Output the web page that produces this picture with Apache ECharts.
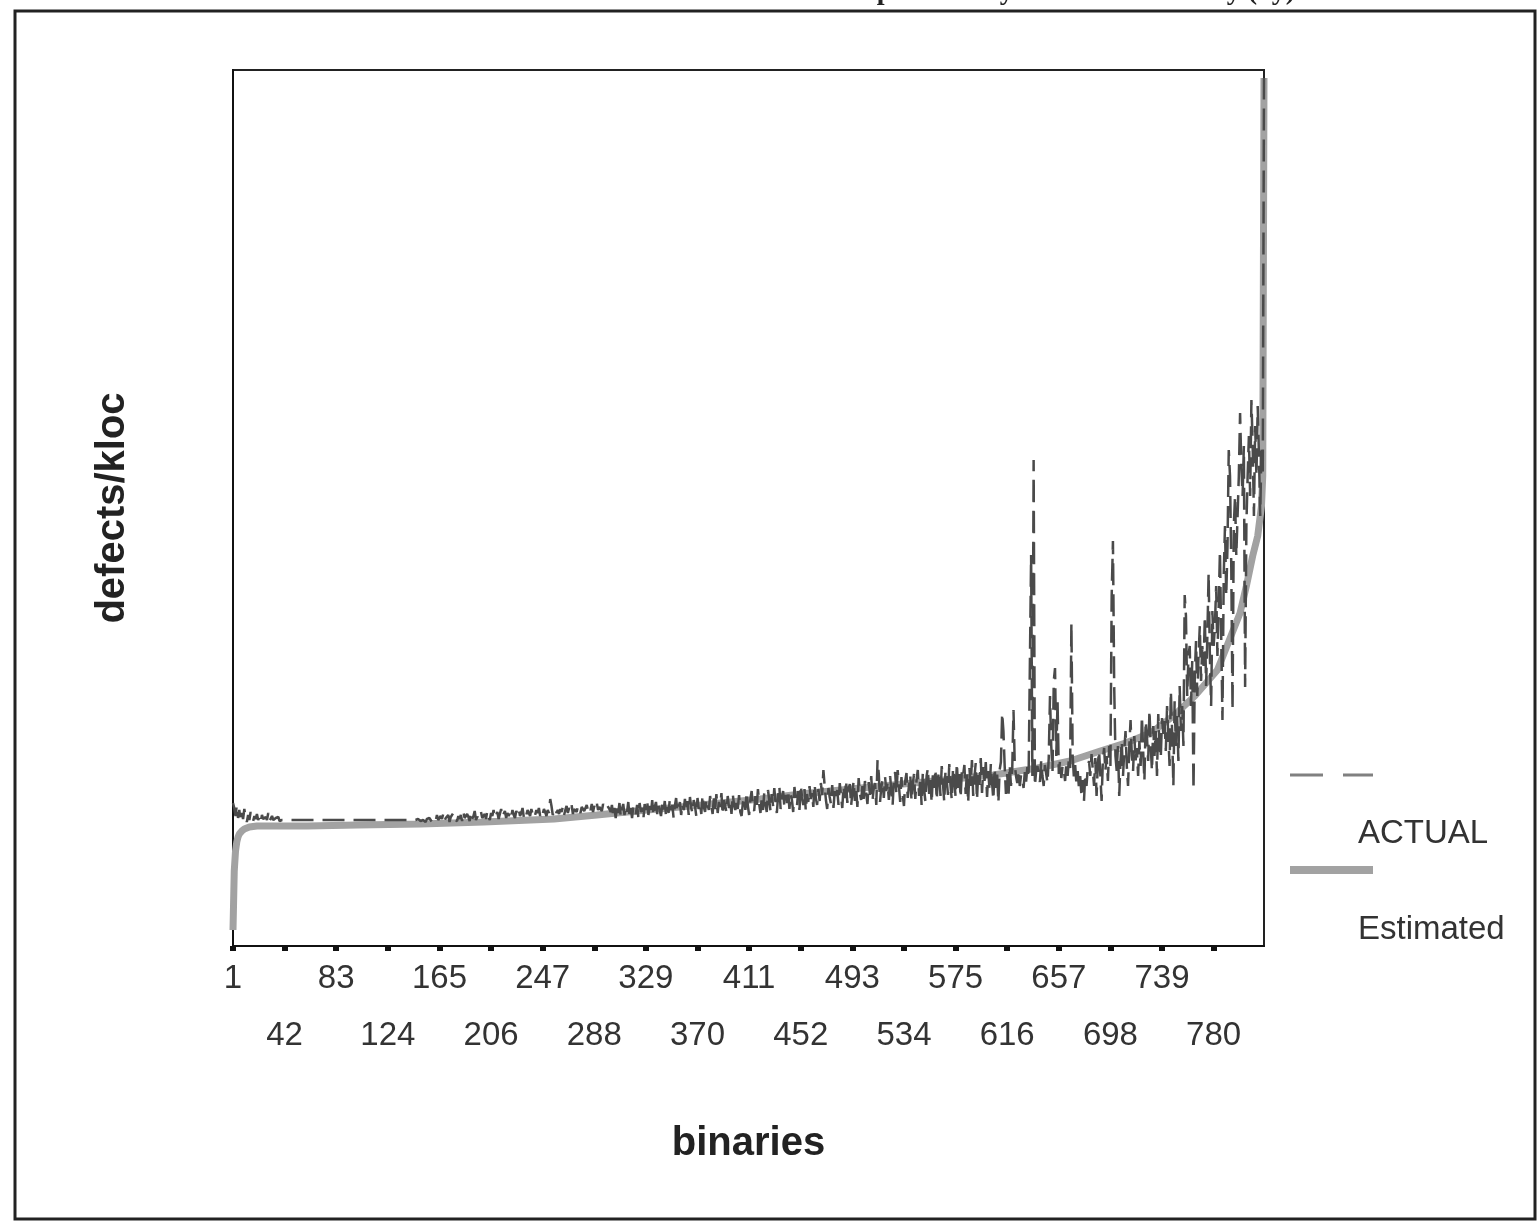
<!DOCTYPE html>
<html>
<head>
<meta charset="utf-8">
<script src="https://cdn.jsdelivr.net/npm/echarts@6/dist/echarts.min.js"></script>
<style>
html,body{margin:0;padding:0;background:#fff;}
#chart{width:1538px;height:1222px;}
</style>
</head>
<body>
<div id="chart"></div>
<script>
// x-axis tick labels (binaries), one label every 41 binaries
const tickLabels = [1,42,83,124,165,206,247,288,329,370,411,452,493,534,575,616,657,698,739,780];
const binaryCount = 820;

// Estimated defects/kloc (read at selected binaries; y in chart units)
const estX = [1,2,3,4,5,6,8,10,14,20,60,100,150,200,256,290,330,373,420,452,500,550,605,640,666,690,710,730,748,765,783,801,806,811,815,818,819,820];
const estY = [16,75,95,104,109,112,115,117,119,120,120,121,122,124,127,131,136,141,147,152,158,164,171,178,185,195,203,213,230,250,276,333,360,390,410,440,470,868];

// ACTUAL defects/kloc for binaries 1..820
const actual = [
143,138,130,141,128,136,125,133,127,137,129,124,131,126,134,128,125,130,127,132,
126,129,124,131,127,125,129,126,133,125,127,130,126,124,128,126,129,125,127,126,
126,126,126,126,126,126,126,126,126,126,126,126,126,126,126,126,126,126,126,126,
126,126,126,126,126,126,126,126,126,126,126,126,126,126,126,126,126,126,126,126,
126,126,126,126,126,126,126,126,126,126,126,126,126,126,126,126,126,126,126,126,
126,126,126,126,126,126,126,126,126,126,126,126,126,126,126,126,126,126,126,126,
126,126,126,126,126,126,126,126,126,126,126,126,126,126,126,126,126,126,126,126,
126,126,126,126,126,126,126,127,126,125,127,126,128,124,127,125,128,126,124,127,
129,125,131,126,124,130,127,132,125,128,126,131,124,129,127,133,126,128,125,130,
127,131,125,134,128,126,132,129,125,133,127,130,135,126,129,131,127,134,128,130,
132,127,135,129,126,133,130,136,128,131,134,127,132,137,129,131,135,128,133,130,
134,129,136,131,128,135,132,137,130,133,138,129,134,131,136,133,130,137,132,135,
131,136,133,138,130,135,132,137,134,130,136,133,147,140,131,135,138,133,136,132,
137,134,139,131,136,140,133,138,135,141,132,137,139,134,140,136,133,139,137,135,
138,141,135,139,136,142,134,140,137,143,136,139,141,135,142,138,136,141,139,137,
134,141,130,138,128,140,133,143,129,137,142,131,139,134,144,130,138,128,140,136,
132,141,129,143,134,138,127,142,136,145,131,140,133,146,130,139,144,132,141,135,
130,142,135,145,129,139,133,147,136,141,128,140,148,134,138,144,131,142,136,147,
135,145,131,149,138,133,146,140,130,148,137,143,132,151,139,134,147,141,136,150,
140,132,148,137,152,133,144,139,153,131,146,140,134,150,138,145,132,152,141,136,
146,137,151,134,130,143,149,136,154,140,131,147,155,139,135,150,138,157,142,133,
148,136,153,142,134,156,145,135,152,140,158,143,133,150,160,137,148,155,139,151,
143,156,137,152,146,134,159,147,140,155,136,161,149,141,157,135,152,144,160,147,
153,139,162,148,141,157,145,163,151,176,160,146,137,158,149,142,161,138,155,147,
156,141,163,150,138,160,148,166,143,157,162,140,153,165,145,159,139,168,152,146,
160,147,165,153,142,164,151,170,145,158,163,141,186,172,144,159,166,148,169,155,
163,146,170,155,141,167,174,152,176,160,144,169,151,140,165,173,148,161,171,145,
162,172,147,166,176,150,168,141,174,157,145,170,178,152,166,143,173,158,177,146,
168,175,150,180,162,144,176,165,151,182,160,146,178,167,149,183,158,172,148,176,
171,181,152,174,143,178,160,186,150,169,183,146,175,161,188,153,179,165,184,149,
175,155,182,163,146,178,158,172,143,176,184,233,215,180,152,172,148,181,160,176,
236,182,170,163,176,160,171,167,158,174,164,179,168,168,391,170,486,160,175,180,
178,164,185,170,160,181,172,163,188,250,200,175,265,278,190,245,172,186,168,180,
176,165,183,170,187,178,323,190,168,181,162,175,158,170,150,166,145,172,160,178,
185,170,192,176,160,188,150,182,195,171,145,186,198,175,190,165,200,180,350,405,
260,190,175,200,150,185,205,170,195,215,180,160,200,226,190,175,210,185,198,170,
205,180,230,195,165,225,210,185,236,200,175,220,190,215,170,232,200,188,228,212,
225,195,240,210,180,255,215,160,245,200,230,185,260,215,240,200,351,330,250,290,
300,240,285,156,270,305,250,290,320,265,300,280,330,260,310,373,290,240,335,300,
320,360,290,340,395,310,226,370,420,350,400,496,470,380,236,420,450,390,430,470,
533,480,450,500,259,420,470,510,450,546,500,430,520,470,540,490,430,500,470,868
];

// categories: binaries 1..820
const binaries = [];
for (let b = 1; b <= binaryCount; b++) binaries.push(String(b));
const estData = estX.map((x, i) => [x - 1, estY[i]]);

const rowOf = (val) => tickLabels.indexOf(Number(val)); // -1 if not labelled
const isTick = (idx, val) => rowOf(val) >= 0;
const isRow1 = (idx, val) => { const k = rowOf(val); return k >= 0 && k % 2 === 0; };
const isRow2 = (idx, val) => { const k = rowOf(val); return k >= 0 && k % 2 === 1; };

const chart = echarts.init(document.getElementById('chart'), null, {renderer: 'canvas'});
const FONT = '"Liberation Sans", Arial, sans-serif';
const labelStyle = {fontFamily: FONT, fontSize: 33, color: '#333', margin: 4, lineHeight: 57, showMinLabel: true, showMaxLabel: true, hideOverlap: false};

chart.setOption({
  animation: false,
  backgroundColor: '#ffffff',
  grid: {
    left: 233, right: 274, top: 70, bottom: 276,
    show: true, borderColor: '#222', borderWidth: 2, backgroundColor: '#fff'
  },
  xAxis: [
    {
      type: 'category', data: binaries, boundaryGap: false,
      name: 'binaries', nameLocation: 'middle', nameGap: 178,
      nameTextStyle: {fontFamily: FONT, fontWeight: 'bold', fontSize: 40, color: '#222'},
      axisLine: {show: true, lineStyle: {color: '#111', width: 2}},
      axisTick: {show: true, interval: isTick, length: 5, lineStyle: {color: '#111', width: 6}},
      axisLabel: Object.assign({show: true, interval: isRow1}, labelStyle),
      splitLine: {show: false}
    },
    {
      type: 'category', data: binaries, boundaryGap: false, position: 'bottom', offset: 57,
      axisLine: {show: false}, axisTick: {show: false},
      axisLabel: Object.assign({show: true, interval: isRow2}, labelStyle),
      splitLine: {show: false}
    }
  ],
  yAxis: {
    type: 'value', min: 0, max: 876,
    name: 'defects/kloc', nameLocation: 'middle', nameGap: 100,
    nameTextStyle: {fontFamily: FONT, fontWeight: 'bold', fontSize: 40, color: '#222'},
    axisLine: {show: true, lineStyle: {color: '#111', width: 2}},
    axisTick: {show: false},
    axisLabel: {show: false},
    splitLine: {show: false}
  },
  series: [
    {
      name: 'Estimated', type: 'line', xAxisIndex: 0, data: estData, showSymbol: false, symbol: 'none',
      lineStyle: {color: '#a2a2a2', width: 7}, z: 2
    },
    {
      name: 'ACTUAL', type: 'line', xAxisIndex: 0, data: actual, showSymbol: false, symbol: 'none',
      lineStyle: {color: '#4a4a4a', width: 2.5, type: [22, 9]}, z: 3
    }
  ],
  graphic: [
    {type: 'rect', shape: {x: 15, y: 11, width: 1520, height: 1208}, style: {fill: null, stroke: '#222', lineWidth: 3}, silent: true},
    {type: 'text', left: 820, top: -22, style: {text: 'to explain the system defect density (θy).', font: 'bold 28px "Liberation Serif", serif', fill: '#222'}, silent: true},
    {type: 'line', shape: {x1: 1290, y1: 775, x2: 1373, y2: 775}, style: {stroke: '#808080', lineWidth: 3, lineDash: [33, 20]}, silent: true},
    {type: 'text', left: 1358, top: 817, style: {text: 'ACTUAL', font: '33px "Liberation Sans", Arial, sans-serif', fill: '#333'}, silent: true},
    {type: 'line', shape: {x1: 1290, y1: 870, x2: 1373, y2: 870}, style: {stroke: '#a2a2a2', lineWidth: 8}, silent: true},
    {type: 'text', left: 1358, top: 913, style: {text: 'Estimated', font: '33px "Liberation Sans", Arial, sans-serif', fill: '#333'}, silent: true}
  ]
});
</script>
</body>
</html>
